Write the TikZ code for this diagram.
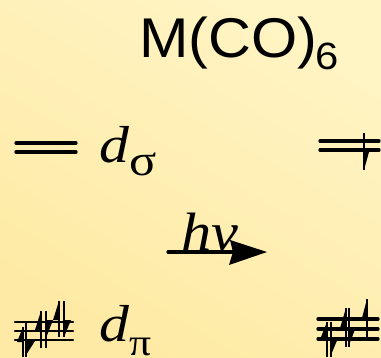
\documentclass[tikz,border=0pt]{standalone}
\usepackage{fontspec}
\setmainfont{Liberation Serif}
\newfontfamily\arial{Liberation Sans}
\definecolor{bgA}{HTML}{FFF4C4}
\definecolor{bgB}{HTML}{FEEAA4}
\newcommand{\upa}[5]{% x, ybottom, ytop, headbottom, headwidth
  \draw[vline] (#1,#2) -- (#1,#3);
  \fill (#1,#3) -- (#1,#4) -- ({#1-#5},#4) -- cycle;}
\newcommand{\dna}[6]{% x, ytop, ytip, headtop, headwidth, yend
  \draw[vline] (#1,#2) -- (#1,#6);
  \fill (#1,#3) -- (#1,#4) -- ({#1+#5},#4) -- cycle;}
\begin{document}
\begin{tikzpicture}[x=1pt,y=-1pt,
  vline/.style={line width=1.5pt},
  level/.style={line width=3.3pt,line cap=round},
  levelthin/.style={line width=2.6pt,line cap=round},
  txt/.style={inner sep=0pt,anchor=base west},
  wide/.style={xscale=#1,transform shape}]
\useasboundingbox (0,0) rectangle (381,357);
\shade[shading=axis,bottom color=bgB,top color=bgA,shading angle=-30] (0,0) rectangle (381,357);
\node[txt,wide=1.06,font=\arial\fontsize{56}{56}\selectfont] (title) at (139,57) {M(CO)};
\node[txt,wide=1.1,font=\arial\fontsize{38}{38}\selectfont] (titlesub) at (315,69) {6};
% d sigma
\coordinate (sa1) at (16,143); \coordinate (sa2) at (76,143);
\coordinate (sb1) at (16,152); \coordinate (sb2) at (76,152);
\draw[level] (sa1) -- (sa2); \draw[level] (sb1) -- (sb2);
\node[txt,wide=1.15,font=\itshape\fontsize{52}{52}\selectfont] (dsig) at (99,162) {d};
\node[txt,wide=1.15,font=\fontsize{44}{44}\selectfont] (dsigs) at (129,175) {σ};
\coordinate (sc1) at (320,141); \coordinate (sc2) at (379,141);
\coordinate (sd1) at (320,150); \coordinate (sd2) at (379,150);
\draw[level] (sc1) -- (sc2); \draw[level] (sd1) -- (sd2);
\dna{364}{133}{170}{152}{5}{170}
% h nu
\node[txt,wide=1.12,font=\itshape\fontsize{54}{54}\selectfont] (hnu) at (181,250) {hν};
\coordinate (aa) at (168,252); \coordinate (ab) at (235,252); \coordinate (at) at (267,252);
\draw[line width=3.2pt,line cap=round] (aa) -- (ab);
\fill (at) -- (229,265) -- (233,252) -- (230,240) -- cycle;
% d pi
\foreach \y in {322,331,340} {\draw[levelthin] (15,\y) -- (73,\y);}
\foreach \y in {319,329,339} {\draw[level] (318,\y) -- (378,\y);}
\upa{23}{357}{327}{342}{6}
\dna{26}{322}{355}{341}{9}{357}
\upa{41}{348}{311}{330}{6}
\dna{46}{311}{338}{320}{7}{348}
\upa{59}{337}{301}{320}{6}
\dna{64}{301}{337}{320}{7}{337}
\upa{327}{357}{322}{337}{6}
\dna{331}{322}{355}{338}{7}{357}
\upa{346}{347}{308}{328}{6}
\dna{349}{308}{345}{327}{7}{347}
\upa{367}{338}{299}{318}{5}
\node[txt,wide=1.15,font=\itshape\fontsize{52}{52}\selectfont] (dpi) at (99,341) {d};
\node[txt,wide=1.15,font=\fontsize{38}{38}\selectfont] (dpis) at (129,355) {π};
\end{tikzpicture}
\end{document}
